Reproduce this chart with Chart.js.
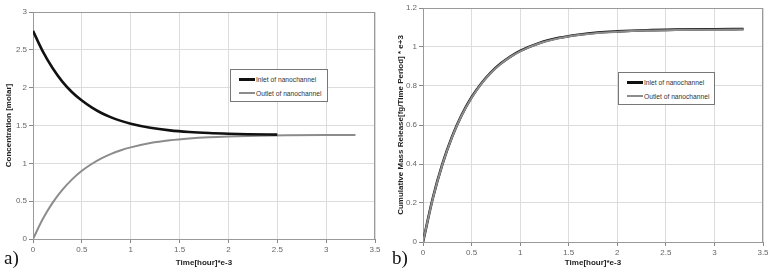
<!DOCTYPE html>
<html>
<head>
<meta charset="utf-8">
<script src="https://cdn.jsdelivr.net/npm/chart.js@4"></script>
<style>
  body { margin: 0; background: #fff; }
  #wrap { position: relative; width: 776px; height: 270px; overflow: hidden; }
  .pane { position: absolute; top: 0; width: 388px; height: 270px; }
  .tag { position: absolute; font-family: "Liberation Serif", serif; font-size: 19px; color: #111; }
  .legend { position: absolute; background: #fff; border: 1px solid #777; box-sizing: border-box;
            font-family: "Liberation Sans", Arial, sans-serif; font-size: 6.7px; color: #333; }
  .legend .row { position: absolute; left: 8px; height: 8px; display: flex; align-items: center; white-space: nowrap; }
  .legend .swatch { width: 16px; margin-right: 1px; }
</style>
</head>
<body>
<div id="wrap">
  <div class="pane" style="left:0"><canvas id="chartA" width="388" height="270"></canvas></div>
  <div class="pane" style="left:388px"><canvas id="chartB" width="388" height="270"></canvas></div>
  <div class="tag" style="left:4px;top:247px">a)</div>
  <div class="tag" style="left:392px;top:247px">b)</div>
  <div class="legend" id="legendA" style="left:230px;top:69px;width:98px;height:33px"></div>
  <div class="legend" id="legendB" style="left:618px;top:72px;width:97px;height:33px"></div>
</div>
<script>
// series labels
const seriesNames = ['Inlet of nanochannel', 'Outlet of nanochannel'];
const seriesColors = ['#111111', '#8c8c8c'];

// x ticks shared by both panels
const timeTicks = [0, 0.5, 1, 1.5, 2, 2.5, 3, 3.5];

// panel a) concentration [molar]
const concTicks = [0, 0.5, 1, 1.5, 2, 2.5, 3];
const inletTimes = [0, 0.1, 0.2, 0.3, 0.4, 0.5, 0.6, 0.7, 0.8, 0.9, 1.0, 1.2, 1.4, 1.6, 1.8, 2.0, 2.2, 2.5];
const inletConc  = [2.75, 2.48, 2.26, 2.08, 1.94, 1.83, 1.74, 1.665, 1.607, 1.561, 1.524, 1.471, 1.436, 1.414, 1.400, 1.391, 1.385, 1.380];
const outletTimes = [0, 0.1, 0.2, 0.3, 0.4, 0.5, 0.6, 0.7, 0.8, 0.9, 1.0, 1.2, 1.4, 1.6, 1.8, 2.0, 2.3, 2.6, 3.0, 3.3];
const outletConc  = [0, 0.264, 0.477, 0.649, 0.788, 0.901, 0.991, 1.065, 1.125, 1.173, 1.211, 1.268, 1.305, 1.329, 1.345, 1.355, 1.365, 1.370, 1.373, 1.374];

// panel b) cumulative mass release
const releaseTicks = [0, 0.2, 0.4, 0.6, 0.8, 1, 1.2];
const releaseTimes = [0, 0.1, 0.2, 0.3, 0.4, 0.5, 0.6, 0.7, 0.8, 0.9, 1.0, 1.2, 1.4, 1.6, 1.8, 2.0, 2.3, 2.6, 3.0, 3.3];
const inletRelease  = [0, 0.223, 0.400, 0.541, 0.653, 0.742, 0.813, 0.870, 0.915, 0.951, 0.980, 1.021, 1.047, 1.063, 1.074, 1.080, 1.086, 1.089, 1.091, 1.092];
const outletRelease = [0, 0.221, 0.398, 0.539, 0.651, 0.740, 0.811, 0.868, 0.913, 0.949, 0.978, 1.019, 1.045, 1.061, 1.072, 1.078, 1.084, 1.087, 1.089, 1.090];

const pts = (xs, ys) => xs.map((x, i) => ({ x: x, y: ys[i] }));
const fmt = v => String(Math.round(v * 100) / 100);

// gray frame round the plot area
const framePlugin = {
    id: 'frame',
    beforeDatasetsDraw(chart) {
        const a = chart.chartArea;
        const ctx = chart.ctx;
        ctx.save();
        ctx.strokeStyle = '#9a9a9a';
        ctx.lineWidth = 1;
        ctx.strokeRect(a.left + 0.5, a.top + 0.5, a.right - a.left - 1, a.bottom - a.top);
        ctx.restore();
    }
};

function makeChart(id, sets, yTicks, yTitle, geo) {
    const font = { family: '"Liberation Sans", Arial, sans-serif', size: 8 };
    return new Chart(document.getElementById(id), {
        type: 'line',
        data: {
            datasets: sets.map((s, i) => ({
                label: seriesNames[i],
                data: s,
                borderColor: seriesColors[i],
                borderWidth: i === 0 ? 2.6 : 2,
                order: geo.grayOnTop ? 1 - i : i,
                pointRadius: 0,
                tension: 0.4,
                cubicInterpolationMode: 'monotone',
                fill: false
            }))
        },
        options: {
            responsive: false,
            animation: false,
            layout: { padding: { left: 0, top: geo.top, right: geo.right, bottom: 0 } },
            plugins: { legend: { display: false }, tooltip: { enabled: false } },
            scales: {
                x: {
                    type: 'linear', min: 0, max: 3.5,
                    afterBuildTicks: sc => { sc.ticks = timeTicks.map(v => ({ value: v })); },
                    afterFit: sc => { sc.height = geo.xh; },
                    ticks: { color: '#666', font: font, padding: 2, maxRotation: 0, callback: fmt },
                    grid: { color: '#dcdcdc', tickColor: '#888', tickLength: 4 },
                    border: { color: '#888' },
                    title: { display: true, text: 'Time[hour]*e-3', color: '#222',
                             font: { family: font.family, size: 8, weight: 'bold' }, padding: { top: 0, bottom: 2 } }
                },
                y: {
                    type: 'linear', min: 0, max: yTicks[yTicks.length - 1],
                    afterBuildTicks: sc => { sc.ticks = yTicks.map(v => ({ value: v })); },
                    afterFit: sc => { sc.width = geo.yw; },
                    ticks: { color: '#666', font: font, padding: 2, callback: fmt },
                    grid: { color: '#dcdcdc', tickColor: '#888', tickLength: 4 },
                    border: { color: '#888' },
                    title: { display: true, text: yTitle, color: '#222',
                             font: { family: font.family, size: 8, weight: 'bold' }, padding: { top: geo.tp, bottom: 0 } }
                }
            }
        },
        plugins: [framePlugin]
    });
}

function makeLegend(id) {
    const box = document.getElementById(id);
    seriesNames.forEach((name, i) => {
        const row = document.createElement('div');
        row.className = 'row';
        row.style.top = (i === 0 ? 5 : 19) + 'px';
        const sw = document.createElement('span');
        sw.className = 'swatch';
        sw.style.borderTop = (i === 0 ? 3 : 2) + 'px solid ' + seriesColors[i];
        const txt = document.createElement('span');
        txt.textContent = name;
        row.appendChild(sw);
        row.appendChild(txt);
        box.appendChild(row);
    });
}

makeChart('chartA', [pts(inletTimes, inletConc), pts(outletTimes, outletConc)], concTicks,
    'Concentration [molar]', { top: 12, right: 13, yw: 33, xh: 31, tp: 4, grayOnTop: false });
// gray outlet line sits over the black inlet line in panel b
makeChart('chartB', [pts(releaseTimes, inletRelease), pts(releaseTimes, outletRelease)], releaseTicks,
    'Cumulative Mass Release[fg/Time Period] * e+3', { top: 8, right: 13, yw: 35, xh: 28, tp: 8, grayOnTop: true });
makeLegend('legendA');
makeLegend('legendB');
</script>
</body>
</html>
